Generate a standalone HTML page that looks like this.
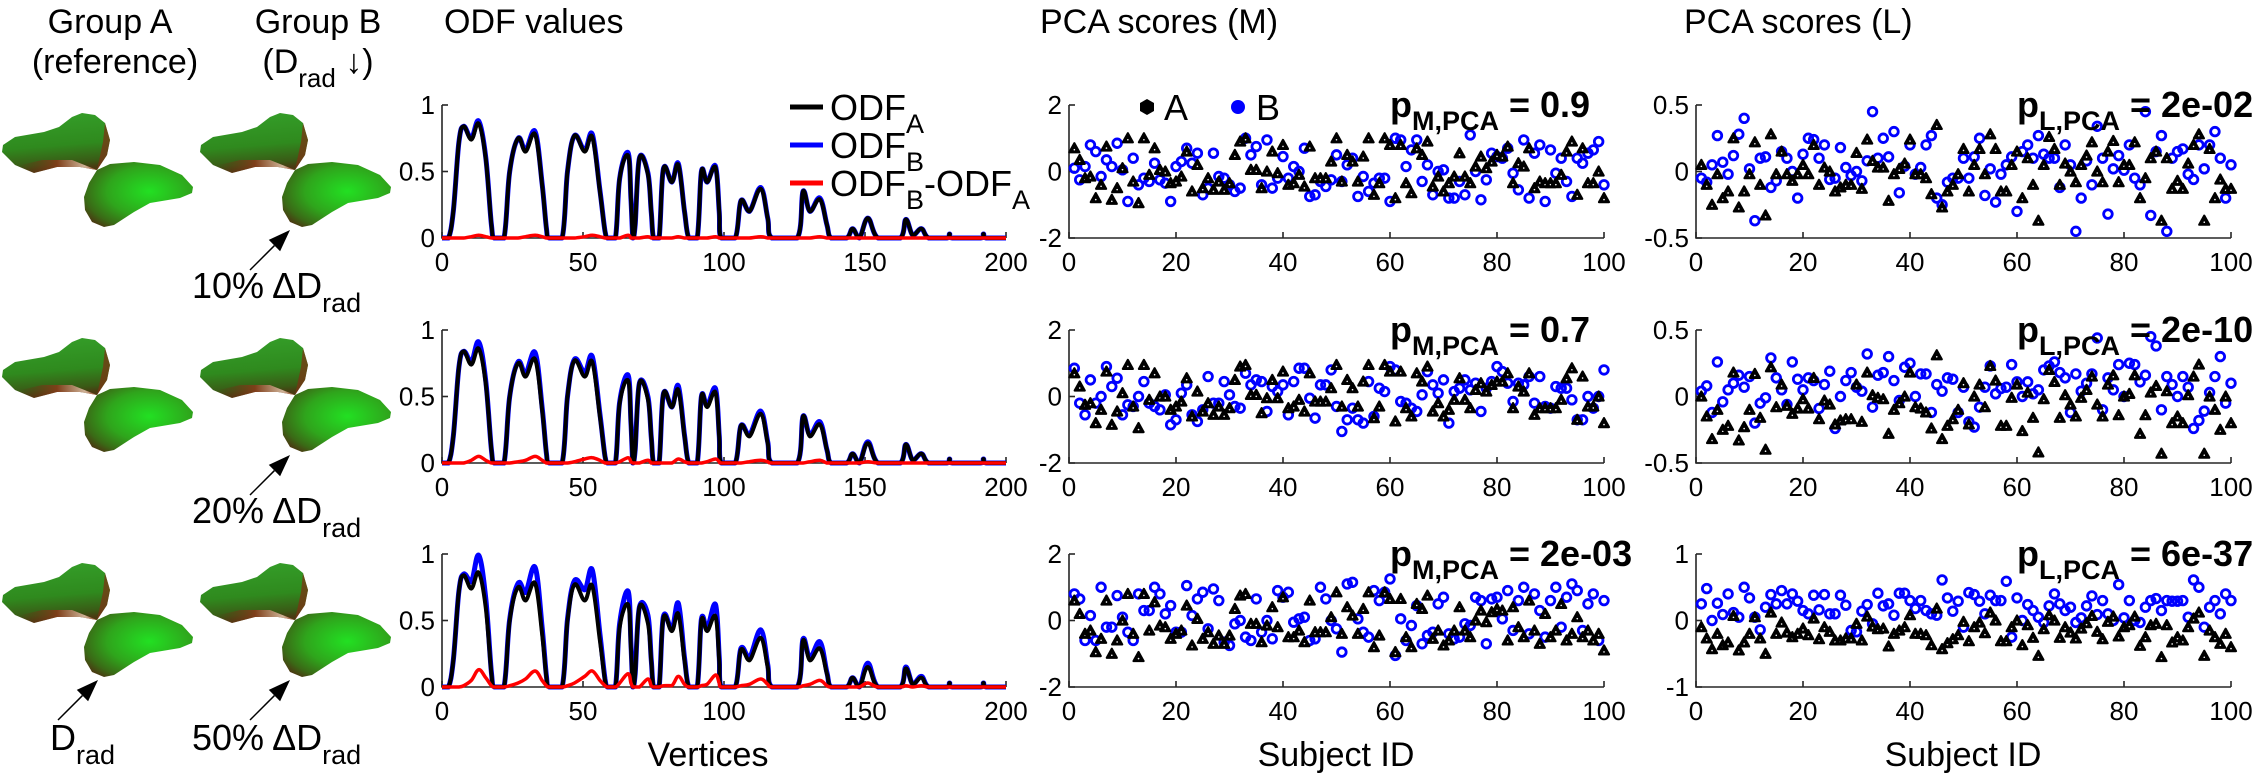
<!DOCTYPE html>
<html><head><meta charset="utf-8"><title>ODF and PCA figure</title>
<style>
html,body{margin:0;padding:0;background:#fff;}
svg{display:block;font-family:"Liberation Sans","DejaVu Sans",sans-serif;}
</style></head>
<body>
<svg id="fig" width="2254" height="778" viewBox="0 0 2254 778" xmlns="http://www.w3.org/2000/svg">
<defs>
<radialGradient id="gLow" cx="0.6" cy="0.45" r="0.7">
<stop offset="0" stop-color="#22e022"/><stop offset="0.55" stop-color="#2fa51c"/><stop offset="0.85" stop-color="#3a6a16"/><stop offset="1" stop-color="#4a3a12"/>
</radialGradient>
<linearGradient id="gUp" x1="0" y1="0" x2="0.15" y2="1">
<stop offset="0" stop-color="#35a02a"/><stop offset="0.6" stop-color="#2f8a1e"/><stop offset="0.9" stop-color="#3a5a16"/><stop offset="1" stop-color="#4a3a12"/>
</linearGradient>
<linearGradient id="gWedge" x1="0" y1="0" x2="1" y2="0">
<stop offset="0" stop-color="#5a2a10" stop-opacity="0"/><stop offset="0.5" stop-color="#8a3a1a"/><stop offset="0.85" stop-color="#e8c8b0"/><stop offset="1" stop-color="#a04020"/>
</linearGradient>
</defs>

<g font-size="34" fill="#000">
<text x="110" y="33" text-anchor="middle">Group A</text>
<text x="115" y="73" text-anchor="middle">(reference)</text>
<text x="318" y="33" text-anchor="middle">Group B</text>
<text x="318" y="73" text-anchor="middle">(D<tspan font-size="26" dy="14">rad</tspan><tspan dy="-14"> ↓)</tspan></text>
<text x="444" y="33">ODF values</text>
<text x="1040" y="33">PCA scores (M)</text>
<text x="1684" y="33">PCA scores (L)</text>
</g>

<g id="glyphs"></g>

<g font-size="36" fill="#000">
<text x="192" y="298">10% ΔD<tspan font-size="27" dy="14">rad</tspan></text>
<text x="192" y="523">20% ΔD<tspan font-size="27" dy="14">rad</tspan></text>
<text x="192" y="750">50% ΔD<tspan font-size="27" dy="14">rad</tspan></text>
<text x="50" y="750">D<tspan font-size="27" dy="14">rad</tspan></text>
</g>

<g id="plots"></g>

<g font-size="34" fill="#000">
<text x="708" y="766" text-anchor="middle">Vertices</text>
<text x="1336" y="766" text-anchor="middle">Subject ID</text>
<text x="1963" y="766" text-anchor="middle">Subject ID</text>
</g>

<g font-size="36" fill="#000">
<line x1="790" y1="107" x2="823" y2="107" stroke="#000" stroke-width="5"/>
<text x="830" y="120">ODF<tspan font-size="27" dy="13">A</tspan></text>
<line x1="790" y1="145" x2="823" y2="145" stroke="#0000ff" stroke-width="5"/>
<text x="830" y="158">ODF<tspan font-size="27" dy="13">B</tspan></text>
<line x1="790" y1="183" x2="823" y2="183" stroke="#ff0000" stroke-width="5"/>
<text x="830" y="196">ODF<tspan font-size="27" dy="13">B</tspan><tspan dy="-13">-ODF</tspan><tspan font-size="27" dy="13">A</tspan></text>
</g>

<g font-size="36" fill="#000">
<polygon points="1147,99 1154,103 1154,111 1147,115 1140,111 1140,103" fill="#000"/>
<text x="1164" y="120">A</text>
<circle cx="1238" cy="107" r="7" fill="#0000ff"/>
<text x="1256" y="120">B</text>
</g>
</svg>

<script>
// ---------- ODF data ----------
const odfVertices=[0,2.3,4,6,7.7,10.4,13,15.5,17.5,18.5,22,24,27,29.6,33,35.5,37,38,42.6,44.5,47,50.6,53.3,56,57.8,58.7,61.5,63,66,67,67.7,68.5,70,73,74.2,75,77,78.5,81.5,83.8,86,87.5,90.5,92,94,97,98.3,99,104,106,109,113,115.5,117,126,128,130.5,134,136.5,138,143.5,145.6,148,151,154.6,162.5,164.5,167,170,172.6,179,180,181,191,192,193,200];
const odfA=[0,0,0.2,0.72,0.84,0.74,0.86,0.6,0.1,0, 0,0.5,0.75,0.65,0.78,0.4,0.08,0, 0,0.5,0.77,0.65,0.76,0.35,0.05,0, 0,0.45,0.62,0.3,0,0.1,0.6,0.48,0.2,0, 0,0.52,0.42,0.55,0.2,0, 0,0.5,0.42,0.53,0.2,0, 0,0.28,0.2,0.37,0.15,0, 0,0.35,0.2,0.29,0.1,0, 0,0.07,0,0.15,0, 0,0.14,0.02,0.07,0, 0,0.03,0, 0,0.03,0,0];
const odfDiff1=[0,0,0,0,0,0.01,0.02,0.01,0,0, 0,0,0,0.01,0.02,0.01,0,0, 0,0,0,0.01,0.02,0.01,0,0, 0,0,0.02,0,0,0,0,0.01,0,0, 0,0,0,0.01,0,0, 0,0,0,0.01,0,0, 0,0,0,0.01,0,0, 0,0,0,0.01,0,0, 0,0,0,0,0, 0,0,0,0,0, 0,0,0, 0,0,0,0];
const odfDiff2=[0,0,0,0,0,0.02,0.05,0.02,0,0, 0,0,0.01,0.02,0.05,0.02,0,0, 0,0,0.01,0.03,0.04,0.02,0,0, 0,0.01,0.04,0.01,0,0,0,0.02,0,0, 0,0,0,0.03,0.01,0, 0,0,0.01,0.03,0.01,0, 0,0,0.01,0.02,0.01,0, 0,0,0.01,0.02,0,0, 0,0,0,0.01,0, 0,0,0,0,0, 0,0,0, 0,0,0,0];
const odfDiff3=[0,0,0,0,0.01,0.05,0.13,0.07,0.01,0, 0,0.01,0.03,0.06,0.12,0.05,0.01,0, 0,0.01,0.03,0.08,0.12,0.05,0.01,0, 0,0.03,0.1,0.03,0,0,0,0.06,0.01,0, 0,0.01,0.01,0.08,0.02,0, 0,0.01,0.02,0.09,0.03,0, 0,0.01,0.02,0.06,0.02,0, 0,0.01,0.02,0.05,0.01,0, 0,0,0,0.03,0, 0,0.01,0,0.01,0, 0,0,0, 0,0,0,0];
const odfXTicks=[0,50,100,150,200];
const odfYTicks=[0,0.5,1];
const odfYTickLabels=["0","0.5","1"];

// ---------- PCA scores (M) ----------
const mA1=[0.7,0.35,-0.2,-0.15,-0.8,-0.4,0.75,-0.85,-0.5,0.1,1.0,-0.3,-0.95,1.0,-0.1,0.7,0.05,0.0,-0.35,-0.3,-0.15,0.6,-0.6,0.2,-0.5,-0.2,-0.55,-0.3,-0.55,-0.35,0.5,0.9,1.0,0.05,0.05,-0.5,0.0,0.6,-0.05,0.8,-0.4,-0.35,-0.1,-0.45,0.75,-0.2,-0.2,-0.2,0.3,1.0,-0.3,0.5,0.3,-0.3,0.45,1.0,-0.7,-0.35,1.0,0.8,-0.8,0.8,-0.35,-0.65,0.7,0.5,0.9,-0.45,-0.15,-0.6,-0.35,-0.15,0.55,-0.15,-0.35,0.15,0.45,0.1,0.3,0.5,0.45,0.75,-0.35,0.25,0.15,0.7,-0.5,-0.3,-0.35,-0.35,-0.35,-0.1,0.6,0.9,-0.7,0.7,-0.35,-0.35,0.0,-0.8];
const mB1=[0.1,-0.25,0.15,0.8,0.6,-0.15,0.35,0.15,0.85,0.05,-0.9,0.4,-0.4,-0.2,-0.3,0.25,-0.25,-0.35,-0.9,0.15,0.3,0.7,0.25,0.55,-0.7,-0.5,0.55,-0.15,-0.2,-0.4,-0.6,-0.5,1.0,0.5,0.75,-0.4,0.95,-0.5,-0.2,0.45,-0.2,0.15,0.0,0.7,-0.75,-0.7,-0.3,-0.45,-0.25,0.5,-0.3,0.2,0.4,-0.75,-0.15,-0.6,-0.35,-0.2,-0.2,-0.9,1.0,0.95,0.15,0.65,0.95,-0.3,0.2,-0.7,0.0,0.05,-0.8,-0.8,-0.3,-0.7,1.1,0.0,-0.85,-0.25,0.55,0.45,0.4,0.7,-0.05,-0.55,0.95,-0.8,0.55,0.8,-0.9,0.65,-0.05,0.4,-0.3,-0.75,0.4,0.25,0.55,0.65,0.9,-0.4];
const mA2=[0.7,0.3,-0.25,-0.2,-0.8,-0.4,0.75,-0.85,-0.45,0.1,0.95,-0.3,-0.95,0.95,-0.1,0.7,0.0,0.0,-0.4,-0.3,-0.15,0.55,-0.6,0.15,-0.45,-0.2,-0.55,-0.3,-0.55,-0.35,0.5,0.9,0.95,0.05,0.05,-0.5,-0.05,0.5,-0.05,0.75,-0.35,-0.3,-0.1,-0.45,0.7,-0.15,-0.15,-0.15,0.25,0.95,-0.3,0.5,0.25,-0.3,0.45,0.95,-0.65,-0.3,0.95,0.75,-0.75,0.75,-0.35,-0.6,0.7,0.45,0.9,-0.45,-0.2,-0.6,-0.4,-0.1,0.55,-0.1,-0.35,0.2,0.4,0.15,0.35,0.45,0.45,0.7,-0.35,0.3,0.15,0.7,-0.55,-0.35,-0.35,-0.35,-0.35,-0.1,0.55,0.85,-0.7,0.6,-0.3,-0.3,0.0,-0.8];
const mB2=[0.85,-0.2,-0.55,0.5,-0.2,0.0,0.9,0.3,0.55,-0.55,-0.25,-0.3,0.0,0.45,-0.2,-0.3,-0.4,0.05,-0.85,-0.7,0.1,0.35,-0.55,-0.75,-0.4,0.6,-0.2,-0.2,0.45,0.05,-0.3,-0.35,0.7,0.35,0.5,0.45,-0.45,0.3,0.15,0.35,-0.55,0.45,0.85,0.85,-0.05,-0.65,0.35,0.35,0.8,-0.3,-1.05,-0.7,-0.35,-0.7,-0.8,0.45,-0.6,0.25,0.15,0.9,0.8,-0.15,-0.2,-0.35,-0.45,0.05,0.75,0.35,0.1,0.5,-0.8,0.15,0.25,0.5,0.2,0.4,-0.45,0.25,0.45,0.9,0.75,0.4,-0.15,0.4,0.35,0.6,-0.2,0.6,-0.3,-0.35,0.3,0.25,0.25,-0.1,-0.7,-0.7,0.0,-0.35,0.0,0.8];
const mA3=[0.6,0.2,-0.4,-0.3,-0.95,-0.55,0.6,-1.0,-0.6,0.0,0.8,-0.4,-1.1,0.8,-0.3,0.55,-0.15,-0.2,-0.55,-0.4,-0.3,0.45,-0.75,0.05,-0.55,-0.35,-0.7,-0.45,-0.7,-0.45,0.35,0.75,0.8,-0.1,-0.1,-0.65,-0.15,0.4,-0.2,0.7,-0.5,-0.5,-0.3,-0.65,0.6,-0.35,-0.35,-0.35,0.1,0.85,-0.4,0.4,0.15,-0.4,0.35,0.85,-0.8,-0.45,0.85,0.65,-0.95,0.65,-0.5,-0.8,0.5,0.35,0.75,-0.55,-0.3,-0.75,-0.6,-0.3,0.4,-0.3,-0.5,0.0,0.3,-0.05,0.25,0.35,0.3,-0.6,0.4,-0.2,-0.5,0.6,-0.3,-0.7,0.2,-0.5,-0.3,0.5,-0.6,-0.4,0.1,-0.5,-0.3,-0.6,-0.4,-0.9];
const mB3=[0.8,0.65,-0.6,0.15,-0.6,1.0,-0.2,-0.2,0.75,0.1,-0.35,-0.6,0.8,0.3,0.3,1.0,0.8,0.2,0.45,-0.35,-0.35,1.05,0.15,0.65,0.85,-0.25,0.95,0.6,-0.65,-0.75,-0.1,0.0,-0.5,-0.6,0.65,-0.35,0.0,-0.55,0.9,0.7,0.85,-0.05,0.05,0.1,-0.6,-0.55,1.0,0.65,0.0,-0.25,-0.95,1.1,1.15,0.05,-0.35,-0.5,0.9,0.6,0.85,1.25,-1.05,0.05,-0.6,-0.15,0.45,-0.7,-0.45,-0.35,0.5,0.7,-0.4,-0.55,-0.5,-0.1,-0.15,0.7,0.6,-0.7,0.65,0.7,0.05,0.9,-0.3,0.6,1.0,-0.4,0.8,0.3,-0.5,0.6,1.0,-0.2,0.7,1.1,0.9,-0.3,0.5,0.8,-0.6,0.6];
const mXTicks=[0,20,40,60,80,100];
const mYTicks=[-2,0,2];

// ---------- PCA scores (L) ----------
const lA1=[0.05,-0.1,-0.25,-0.02,-0.2,-0.15,0.25,-0.27,-0.15,-0.02,0.22,-0.1,-0.33,0.28,-0.02,0.15,-0.02,-0.07,-0.02,0.05,-0.02,0.2,-0.1,0.03,0.0,-0.15,-0.12,-0.1,-0.1,0.14,-0.13,0.24,0.08,0.03,0.03,-0.22,-0.02,0.02,0.06,0.24,-0.02,-0.02,-0.05,-0.17,0.35,-0.27,-0.15,-0.1,-0.02,0.17,-0.15,0.05,0.17,-0.02,0.28,0.17,-0.15,-0.15,0.05,0.15,-0.2,0.1,-0.1,-0.37,0.05,0.26,0.17,-0.1,0.06,0.0,-0.08,0.05,0.12,0.22,0.0,-0.08,0.15,0.23,-0.08,0.05,0.05,0.22,-0.2,-0.05,0.1,0.15,-0.37,0.1,-0.13,-0.07,-0.13,0.06,0.2,0.28,-0.37,0.17,-0.2,-0.06,-0.13,-0.13];
const lB1=[-0.05,-0.08,0.05,0.27,0.07,-0.02,0.12,0.28,0.4,0.02,-0.37,0.1,0.11,-0.12,-0.07,0.15,0.1,0.0,-0.2,0.13,0.25,0.24,0.1,0.2,-0.06,-0.05,0.18,0.03,-0.03,0.0,-0.07,0.08,0.45,0.1,0.25,0.11,0.3,-0.16,0.04,0.2,-0.02,0.03,0.2,0.27,-0.2,-0.25,-0.08,-0.05,-0.05,0.1,-0.05,0.11,0.25,-0.18,0.02,-0.23,-0.02,0.05,0.11,-0.3,0.15,0.2,0.1,0.27,0.13,0.1,0.1,-0.12,0.2,0.05,-0.45,-0.2,0.08,-0.1,0.34,0.1,-0.32,0.02,0.12,0.01,0.2,-0.05,-0.1,0.45,-0.33,0.15,0.27,-0.45,0.1,0.15,0.17,-0.02,-0.06,0.2,0.02,0.2,0.3,0.1,-0.2,0.05];
const lA2=[0.0,-0.15,-0.32,-0.1,-0.25,-0.22,0.18,-0.33,-0.23,-0.1,0.17,-0.16,-0.4,0.22,-0.08,0.09,-0.07,-0.13,-0.09,-0.02,-0.09,0.14,-0.17,-0.03,-0.06,-0.21,-0.18,-0.17,-0.17,0.09,-0.19,0.18,0.01,-0.01,-0.02,-0.28,-0.1,-0.05,0.0,0.18,-0.08,-0.09,-0.12,-0.24,0.31,-0.32,-0.22,-0.17,-0.1,0.1,-0.21,0.0,0.09,-0.08,0.23,0.12,-0.22,-0.22,-0.01,0.09,-0.26,0.03,-0.16,-0.42,-0.02,0.2,0.11,-0.16,0.01,-0.06,-0.15,-0.01,0.05,0.15,-0.06,-0.15,0.09,0.16,-0.14,0.0,0.02,0.16,-0.28,-0.14,0.03,0.08,-0.43,0.04,-0.2,-0.15,-0.2,0.01,0.15,0.24,-0.43,0.0,-0.1,-0.25,0.0,-0.2];
const lB2=[0.04,0.08,-0.12,0.26,-0.04,0.05,0.1,0.16,0.07,0.15,-0.2,-0.05,-0.01,0.29,0.14,0.05,-0.06,0.26,0.13,0.05,0.14,0.12,-0.09,0.09,0.19,-0.24,0.0,0.12,0.18,0.07,0.04,0.32,-0.08,0.16,0.18,0.3,0.12,-0.03,0.22,0.25,0.0,0.17,0.17,-0.12,0.09,0.04,0.14,0.13,-0.12,0.07,-0.19,-0.23,-0.08,0.07,0.23,0.02,0.06,0.07,0.24,0.11,0.0,0.11,0.02,0.05,0.2,0.23,0.26,0.18,0.14,-0.12,0.17,0.04,0.1,0.17,0.44,-0.1,0.14,0.05,0.24,0.0,0.25,0.24,0.11,0.16,0.45,0.38,-0.1,0.15,0.09,0.0,0.15,0.07,-0.24,-0.18,-0.11,0.03,0.15,0.3,-0.05,0.1];
const lA3=[-0.1,-0.27,-0.43,-0.2,-0.37,-0.33,0.07,-0.45,-0.33,-0.2,0.05,-0.27,-0.5,0.12,-0.2,-0.03,-0.18,-0.25,-0.2,-0.12,-0.22,0.03,-0.28,-0.1,-0.17,-0.3,-0.3,-0.27,-0.27,-0.05,-0.3,0.06,-0.09,-0.13,-0.12,-0.39,-0.2,-0.15,-0.1,0.08,-0.2,-0.2,-0.22,-0.37,0.18,-0.43,-0.34,-0.28,-0.22,-0.02,-0.31,-0.1,-0.03,-0.19,0.12,0.0,-0.31,-0.31,-0.1,0.0,-0.37,-0.07,-0.26,-0.53,-0.13,0.08,0.0,-0.26,-0.1,-0.18,-0.27,-0.12,-0.04,0.07,-0.17,-0.28,-0.02,0.06,-0.24,-0.1,-0.07,0.06,-0.38,-0.25,-0.07,-0.05,-0.55,-0.07,-0.33,-0.25,-0.3,-0.1,0.03,0.12,-0.53,-0.15,-0.25,-0.35,-0.2,-0.4];
const lB3=[0.25,0.48,0.0,0.26,0.09,0.4,0.12,0.05,0.5,0.34,0.05,-0.14,0.2,0.39,0.25,0.45,0.25,0.4,0.29,0.15,0.1,0.38,0.16,0.39,0.1,0.1,0.38,0.23,-0.15,-0.17,0.14,0.24,-0.05,0.41,0.22,0.25,0.08,0.41,0.41,0.3,0.18,0.3,0.15,0.1,0.08,0.61,0.34,0.14,0.29,-0.1,0.42,0.39,0.29,0.1,0.38,0.3,0.3,0.59,-0.25,0.34,0.0,0.24,0.15,0.05,-0.03,0.22,0.4,0.25,0.15,0.2,-0.03,0.04,0.22,0.37,0.09,0.3,0.1,0.0,0.54,0.04,0.3,0.0,-0.03,0.2,0.3,0.33,0.15,0.3,0.29,0.29,0.3,0.05,0.61,0.5,-0.1,0.2,0.3,0.1,0.4,0.3];
const lXTicks=[0,20,40,60,80,100];
const lYTicks12=[-0.5,0,0.5];
const lYTickLabels12=["-0.5","0","0.5"];
const lYTicks3=[-1,0,1];

const pValuesM=["0.9","0.7","2e-03"];
const pValuesL=["2e-02","2e-10","6e-37"];

// ---------- layout ----------
const NS="http://www.w3.org/2000/svg";
const rowTops=[105,330,554];
const rowH=133;
const plots=document.getElementById('plots');
function mk(tag,attrs,parent){const e=document.createElementNS(NS,tag);for(const k in attrs)e.setAttribute(k,attrs[k]);parent.appendChild(e);return e;}

function smoothPath(pts){
  let d='M'+pts[0][0].toFixed(1)+','+pts[0][1].toFixed(1);
  for(let i=0; pts.length-1>i; i++){
    const p0=pts[Math.max(0,i-1)],p1=pts[i],p2=pts[i+1],p3=pts[Math.min(pts.length-1,i+2)];
    const k=0.18;
    let c1x=p1[0]+(p2[0]-p0[0])*k,c1y=p1[1]+(p2[1]-p0[1])*k;
    let c2x=p2[0]-(p3[0]-p1[0])*k,c2y=p2[1]-(p3[1]-p1[1])*k;
    const lo=Math.max(p1[1],p2[1]);
    if(c1y>lo)c1y=lo; if(c2y>lo)c2y=lo;
    d+=' C'+c1x.toFixed(1)+','+c1y.toFixed(1)+' '+c2x.toFixed(1)+','+c2y.toFixed(1)+' '+p2[0].toFixed(1)+','+p2[1].toFixed(1);
  }
  return d;
}

function axes(g,x0,x1,yTop,yBot,xd,yd,xTicks,yTicks,yLabels,name){
  const sx=v=>x0+(v-xd[0])/(xd[1]-xd[0])*(x1-x0);
  const sy=v=>yBot-(v-yd[0])/(yd[1]-yd[0])*(yBot-yTop);
  const ax=mk('path',{d:'M'+x0+','+yTop+'V'+yBot+'H'+x1,fill:'none',stroke:'#262626','stroke-width':1.6},g);
  
  
  xTicks.forEach(t=>{
    const X=sx(t);
    const tk=mk('line',{x1:X,x2:X,y1:yBot,y2:yBot-6,stroke:'#262626','stroke-width':1.6},g);
    
    
    const tl=mk('text',{x:X,y:yBot+33,'text-anchor':'middle','font-size':26,fill:'#000'},g);
    tl.textContent=String(t);
    
    
  });
  yTicks.forEach((t,i)=>{
    const Y=sy(t);
    const tk=mk('line',{x1:x0,x2:x0+6,y1:Y,y2:Y,stroke:'#262626','stroke-width':1.6},g);
    
    
    const tl=mk('text',{x:x0-7,y:Y+9,'text-anchor':'end','font-size':26,fill:'#000'},g);
    tl.textContent=yLabels?yLabels[i]:String(t);
    
    
  });
  return {sx,sy};
}

const diffs=[odfDiff1,odfDiff2,odfDiff3];
for(let r=0;r<3;r++){
  const top=rowTops[r],bot=top+rowH;
  const g=mk('g',{},plots);
  
  
  const s=axes(g,442,1006,top,bot,[0,200],[0,1],odfXTicks,odfYTicks,odfYTickLabels,'odf-row'+(r+1));
  const dd=diffs[r];
  const ptsB=odfVertices.map((v,i)=>[s.sx(v),s.sy(odfA[i]+dd[i])]);
  const ptsA=odfVertices.map((v,i)=>[s.sx(v),s.sy(odfA[i])]);
  const ptsD=odfVertices.map((v,i)=>[s.sx(v),s.sy(dd[i])]);
  const lb=mk('path',{d:smoothPath(ptsB),fill:'none',stroke:'#0000ff','stroke-width':5,'stroke-linejoin':'round'},g);
  
  
  const la=mk('path',{d:smoothPath(ptsA),fill:'none',stroke:'#000','stroke-width':4,'stroke-linejoin':'round'},g);
  
  
  const ld=mk('path',{d:smoothPath(ptsD),fill:'none',stroke:'#ff0000','stroke-width':3.5,'stroke-linejoin':'round'},g);
  
  

  const mSets=[[mA1,mB1],[mA2,mB2],[mA3,mB3]];
  const lSets=[[lA1,lB1],[lA2,lB2],[lA3,lB3]];
  const panels=[
    {x0:1069,x1:1604,yd:[-2,2],yt:mYTicks,yl:null,data:mSets[r],name:'pca-m',pl:'M',pv:pValuesM[r],px:1390},
    {x0:1696,x1:2231,yd:r<2?[-0.5,0.5]:[-1,1],yt:r<2?lYTicks12:lYTicks3,yl:r<2?lYTickLabels12:null,data:lSets[r],name:'pca-l',pl:'L',pv:pValuesL[r],px:2017}
  ];
  panels.forEach(p=>{
    const pg=mk('g',{},plots);
    
    
    const sc=axes(pg,p.x0,p.x1,top,bot,[0,100],p.yd,p.name==='pca-m'?mXTicks:lXTicks,p.yt,p.yl,p.name+'-row'+(r+1));
    p.data[1].slice(0,100).forEach((v,i)=>{
      const c=mk('circle',{cx:sc.sx(i+1),cy:sc.sy(v),r:4.3,fill:'none',stroke:'#0000ff','stroke-width':2.8},pg);
      
      
    });
    p.data[0].slice(0,100).forEach((v,i)=>{
      const X=sc.sx(i+1),Y=sc.sy(v);
      const t=mk('polygon',{points:X+','+(Y-5)+' '+(X+5)+','+(Y+4)+' '+(X-5)+','+(Y+4),fill:'#000',stroke:'#000','stroke-width':2.2,'stroke-linejoin':'round'},pg);
      
      
      mk('circle',{cx:X,cy:Y+1.5,r:0.8,fill:'#fff'},pg);
    });
    const pt=mk('text',{x:p.px,y:top+12,'font-size':36,'font-weight':'bold',fill:'#000'},pg);
    
    
    pt.textContent='p';
    const s1=mk('tspan',{'font-size':27,dy:13},pt);s1.textContent=p.pl+',PCA';
    const s2=mk('tspan',{dy:-13},pt);s2.textContent=' = '+p.pv;
  });
}

// ---------- glyphs ----------
const glyphs=document.getElementById('glyphs');
const upLobe="M0,0 L-17,-3 L-40,-3 L-63,3 L-82,-5 L-95,-18 L-94,-25 L-82,-33 L-53,-38 L-38,-43 L-25,-53 L-15,-57 L-2,-55 L8,-47 L13,-30 L10,-15 Z";
const lowLobe="M0,0 L13,-6 L37,-8 L63,-5 L85,5 L96,17 L95,23 L83,28 L53,33 L37,42 L17,55 L7,57 L-5,52 L-12,40 L-13,27 L-8,13 Z";
const centers=[];
for(let r=0;r<3;r++){centers.push([97,170+225*r]);centers.push([295,170+225*r]);}
centers.forEach(c=>{
  const g=mk('g',{transform:'translate('+c[0]+','+c[1]+')'},glyphs);
  
  
  mk('path',{d:upLobe,fill:'url(#gUp)'},g);
  mk('path',{d:"M0,0 L-17,-3 L-40,-3 L-63,3 L-80,-4 L-55,-10 L-25,-10 Z",fill:'url(#gWedge)',opacity:0.85},g);
  mk('path',{d:"M0,0 L10,-15 L13,-30 L8,-47 L6,-28 Z",fill:'#7a3414',opacity:0.75},g);
  mk('path',{d:lowLobe,fill:'url(#gLow)'},g);
});
const arrows=[[250,270,290,230],[250,495,290,455],[250,720,290,680],[58,720,98,680]];
arrows.forEach(a=>{
  const x1=a[0],y1=a[1],x2=a[2],y2=a[3];
  const ag=mk('g',{},glyphs);
  
  
  const dx=x2-x1,dy=y2-y1,L=Math.hypot(dx,dy),ux=dx/L,uy=dy/L;
  const bx=x2-ux*22,by=y2-uy*22;
  mk('line',{x1:x1,y1:y1,x2:bx,y2:by,stroke:'#000','stroke-width':1.5},ag);
  mk('polygon',{points:x2+','+y2+' '+(bx-uy*8)+','+(by+ux*8)+' '+(bx+uy*8)+','+(by-ux*8),fill:'#000'},ag);
});
</script>
</body></html>
